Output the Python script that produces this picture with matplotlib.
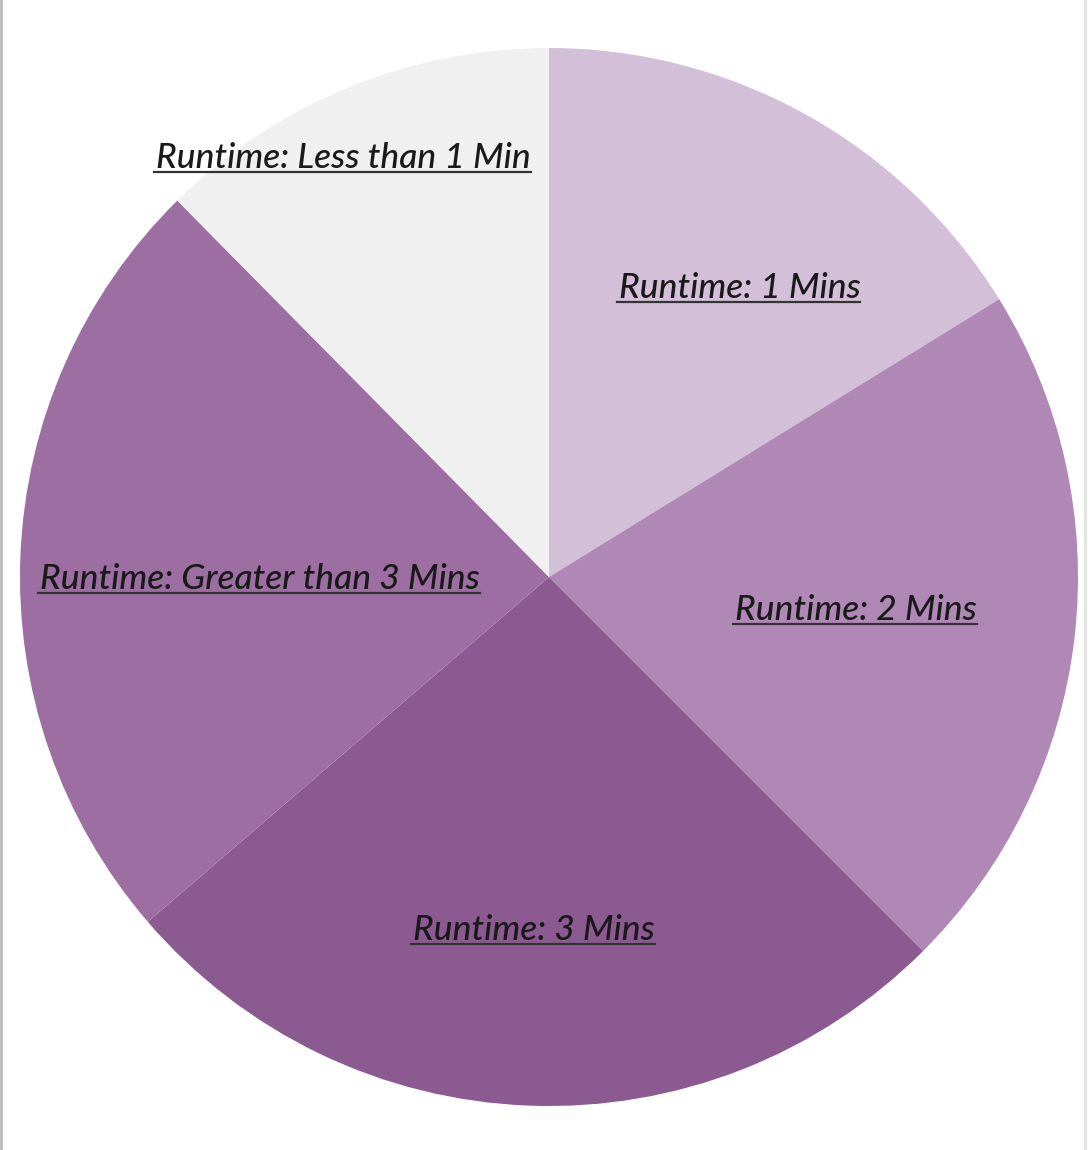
import matplotlib.pyplot as plt
from matplotlib.lines import Line2D

# slices clockwise from 12 o'clock
labels = ["Runtime: 1 Mins", "Runtime: 2 Mins", "Runtime: 3 Mins",
          "Runtime: Greater than 3 Mins", "Runtime: Less than 1 Min"]
shares = [16.2, 21.3, 26.2, 23.9, 12.4]
colors = ["#d4bfd8", "#af88b5", "#8b5a91", "#9c6ea2", "#f0f0f0"]

# label centres in axes fraction
label_pos = [(0.680, 0.773), (0.790, 0.469), (0.486, 0.166), (0.227, 0.498), (0.306, 0.896)]

plt.rcParams['font.family'] = ['Lato', 'DejaVu Sans']

fig = plt.figure(figsize=(10.88, 11.5), dpi=100)
ax = fig.add_axes([20 / 1088, 1 - 1106 / 1150, 1058 / 1088, 1058 / 1150])
ax.pie(shares, colors=colors, startangle=90, counterclock=False,
       wedgeprops=dict(linewidth=0), radius=1.0)
ax.set_xlim(-1, 1)
ax.set_ylim(-1, 1)
ax.set_aspect('equal')
ax.axis('off')

texts = []
for lab, (x, y) in zip(labels, label_pos):
    t = ax.text(x, y, lab, transform=ax.transAxes, ha='center', va='center',
                fontsize=25.5, style='italic', weight='medium', color='#1a1a1a')
    texts.append(t)

# underline each label
fig.canvas.draw()
r = fig.canvas.get_renderer()
W, H = fig.bbox.width, fig.bbox.height
for t in texts:
    bb = t.get_window_extent(renderer=r)
    yline = (bb.y0 + 2) / H
    fig.add_artist(Line2D([(bb.x0 - 2) / W, (bb.x1) / W], [yline, yline],
                          color='#333333', linewidth=1.6, transform=fig.transFigure))

# panel borders
fig.add_artist(Line2D([1 / 1088, 1 / 1088], [0, 1], color='#bbbbbb', linewidth=2,
                      transform=fig.transFigure))
fig.add_artist(Line2D([1085 / 1088, 1085 / 1088], [0, 1], color='#e3e3e3', linewidth=2,
                      transform=fig.transFigure))

fig.savefig("out.png", dpi=100, facecolor='white')
